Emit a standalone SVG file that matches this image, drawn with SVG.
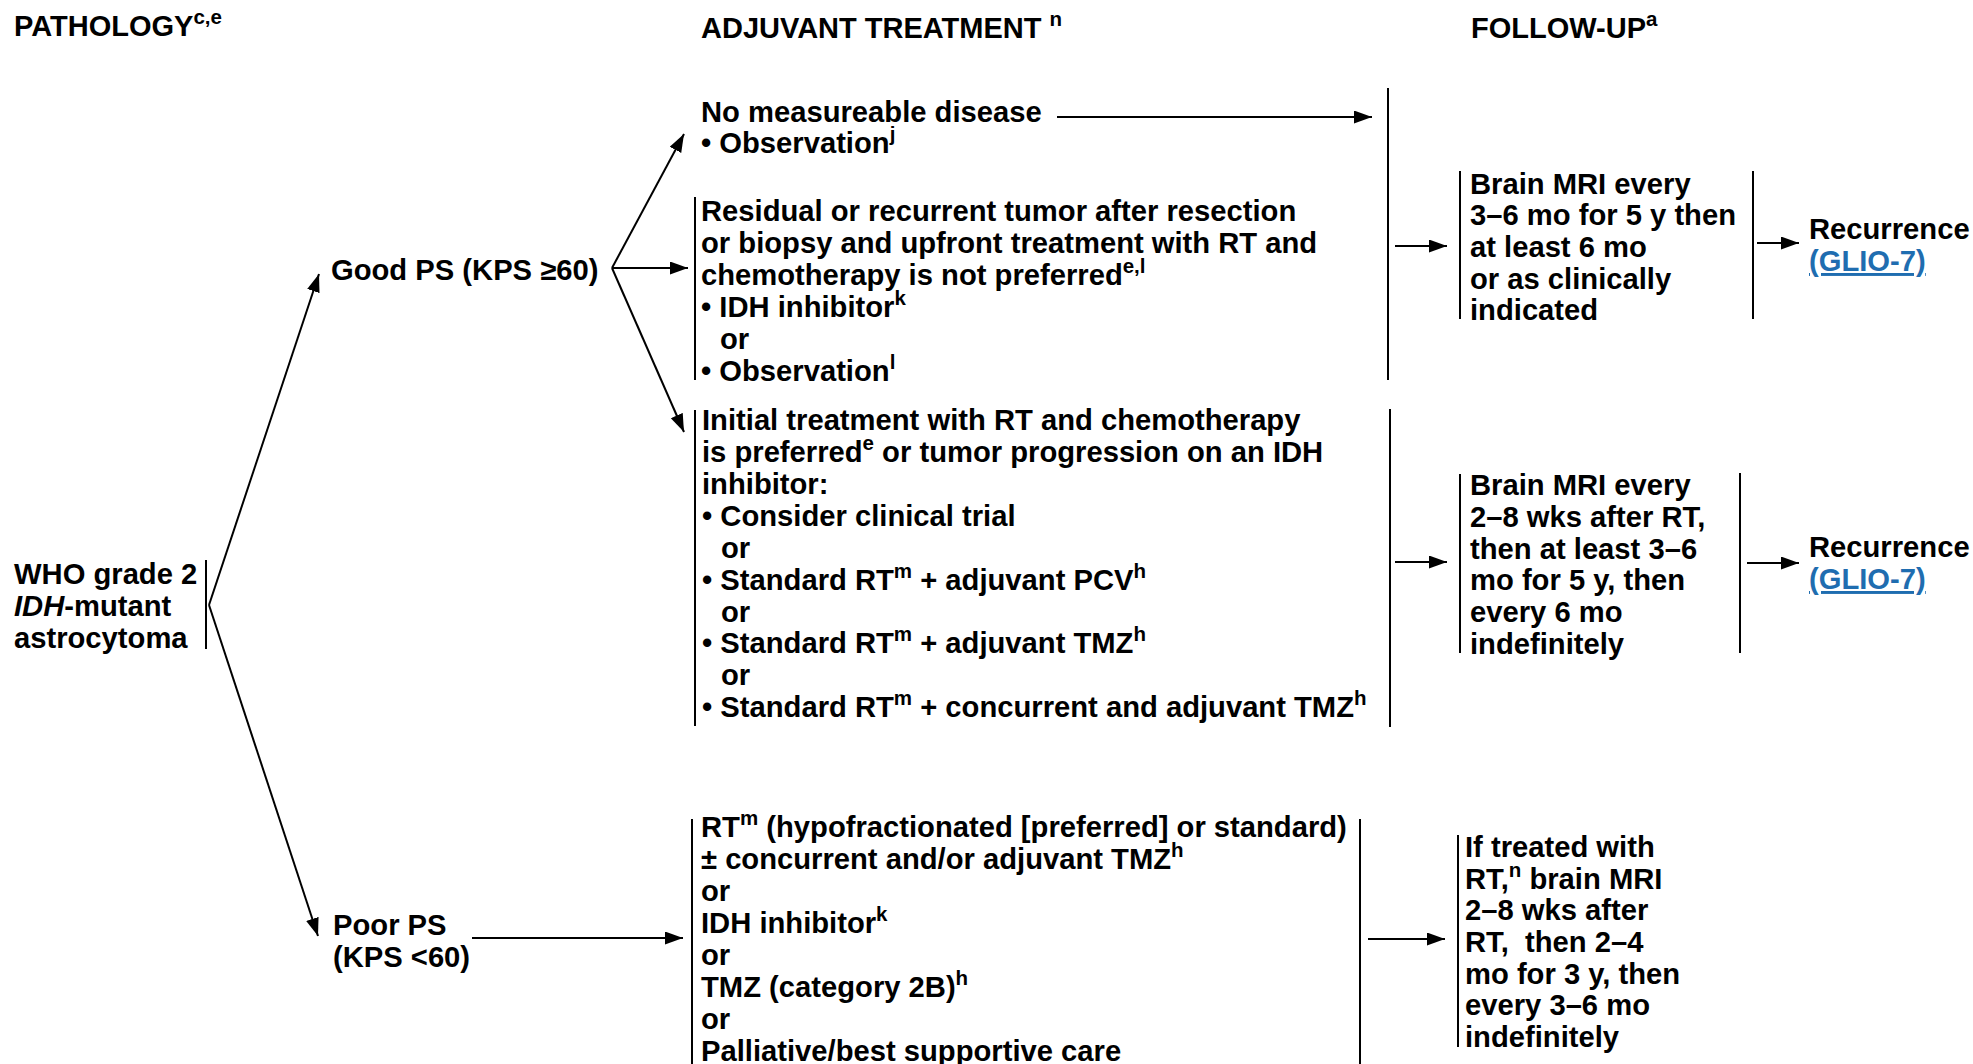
<svg xmlns="http://www.w3.org/2000/svg" width="1973" height="1064" viewBox="0 0 1973 1064">
<style>
.t{font-family:"Liberation Sans",Arial,Helvetica,sans-serif;font-weight:bold;font-size:29.2px;fill:#000}
.h{font-size:29px}
.s{font-size:20.5px}
.i{font-style:italic}
.lk{fill:#1f6db0;text-decoration:underline}
.br{stroke:#000;stroke-width:2;fill:none}
.cn{stroke:#000;stroke-width:2;fill:none;marker-end:url(#ah)}
</style>
<defs>
<marker id="ah" markerUnits="userSpaceOnUse" markerWidth="19" markerHeight="14" refX="18" refY="6.5" orient="auto"><path d="M0,0 L18,6.5 L0,13 z" fill="#000"/></marker>
</defs>
<rect width="1973" height="1064" fill="#fff"/>

<g id="headers">
<text class="t h" x="14" y="36">PATHOLOGY<tspan class="s" dy="-12">c,e</tspan></text>
<text class="t h" x="701" y="38">ADJUVANT TREATMENT <tspan class="s" dy="-12">n</tspan></text>
<text class="t h" x="1471" y="38">FOLLOW-UP<tspan class="s" dy="-12">a</tspan></text>
</g>

<g id="who">
<text class="t"><tspan x="14" y="584">WHO grade 2</tspan><tspan x="14" y="616"><tspan class="i">IDH</tspan>-mutant</tspan><tspan x="14" y="648">astrocytoma</tspan></text>
<line class="br" x1="206" y1="560" x2="206" y2="649"/>
</g>

<g id="good-ps">
<text class="t" x="331" y="280">Good PS (KPS ≥60)</text>
</g>

<g id="poor-ps">
<text class="t"><tspan x="333" y="935">Poor PS</tspan><tspan x="333" y="967">(KPS &lt;60)</tspan></text>
</g>

<g id="no-measurable">
<text class="t"><tspan x="701" y="122">No measureable disease</tspan><tspan x="701" y="153">• Observation<tspan class="s" dy="-12">j</tspan></tspan></text>
</g>

<g id="residual">
<text class="t"><tspan x="701" y="221">Residual or recurrent tumor after resection</tspan><tspan x="701" y="253">or biopsy and upfront treatment with RT and</tspan><tspan x="701" y="285">chemotherapy is not preferred<tspan class="s" dy="-12">e,l</tspan></tspan><tspan x="701" y="317">• IDH inhibitor<tspan class="s" dy="-12">k</tspan></tspan><tspan x="720" y="349">or</tspan><tspan x="701" y="381">• Observation<tspan class="s" dy="-12">l</tspan></tspan></text>
<line class="br" x1="695" y1="197" x2="695" y2="380"/>
</g>

<g id="group1-right">
<line class="br" x1="1388" y1="88" x2="1388" y2="380"/>
</g>

<g id="initial">
<text class="t"><tspan x="702" y="430">Initial treatment with RT and chemotherapy</tspan><tspan x="702" y="462">is preferred<tspan class="s" dy="-12">e</tspan><tspan dy="12"> or tumor progression on an IDH</tspan></tspan><tspan x="702" y="494">inhibitor:</tspan><tspan x="702" y="526">• Consider clinical trial</tspan><tspan x="721" y="558">or</tspan><tspan x="702" y="590">• Standard RT<tspan class="s" dy="-12">m</tspan><tspan dy="12"> + adjuvant PCV</tspan><tspan class="s" dy="-12">h</tspan></tspan><tspan x="721" y="622">or</tspan><tspan x="702" y="653">• Standard RT<tspan class="s" dy="-12">m</tspan><tspan dy="12"> + adjuvant TMZ</tspan><tspan class="s" dy="-12">h</tspan></tspan><tspan x="721" y="685">or</tspan><tspan x="702" y="717">• Standard RT<tspan class="s" dy="-12">m</tspan><tspan dy="12"> + concurrent and adjuvant TMZ</tspan><tspan class="s" dy="-12">h</tspan></tspan></text>
<line class="br" x1="695" y1="410" x2="695" y2="726"/>
<line class="br" x1="1390" y1="409" x2="1390" y2="727"/>
</g>

<g id="poor-treatment">
<text class="t"><tspan x="701" y="837">RT<tspan class="s" dy="-12">m</tspan><tspan dy="12"> (hypofractionated [preferred] or standard)</tspan></tspan><tspan x="701" y="869">± concurrent and/or adjuvant TMZ<tspan class="s" dy="-12">h</tspan></tspan><tspan x="701" y="901">or</tspan><tspan x="701" y="933">IDH inhibitor<tspan class="s" dy="-12">k</tspan></tspan><tspan x="701" y="965">or</tspan><tspan x="701" y="997">TMZ (category 2B)<tspan class="s" dy="-12">h</tspan></tspan><tspan x="701" y="1029">or</tspan><tspan x="701" y="1061">Palliative/best supportive care</tspan></text>
<line class="br" x1="692" y1="819" x2="692" y2="1064"/>
<line class="br" x1="1360" y1="819" x2="1360" y2="1064"/>
</g>

<g id="followup1">
<text class="t"><tspan x="1470" y="194">Brain MRI every</tspan><tspan x="1470" y="225">3–6 mo for 5 y then</tspan><tspan x="1470" y="257">at least 6 mo</tspan><tspan x="1470" y="289">or as clinically</tspan><tspan x="1470" y="320">indicated</tspan></text>
<line class="br" x1="1460" y1="171" x2="1460" y2="319"/>
<line class="br" x1="1753" y1="171" x2="1753" y2="319"/>
</g>

<g id="followup2">
<text class="t"><tspan x="1470" y="495">Brain MRI every</tspan><tspan x="1470" y="527">2–8 wks after RT,</tspan><tspan x="1470" y="559">then at least 3–6</tspan><tspan x="1470" y="590">mo for 5 y, then</tspan><tspan x="1470" y="622">every 6 mo</tspan><tspan x="1470" y="654">indefinitely</tspan></text>
<line class="br" x1="1460" y1="474" x2="1460" y2="653"/>
<line class="br" x1="1740" y1="473" x2="1740" y2="653"/>
</g>

<g id="followup3">
<text class="t"><tspan x="1465" y="857">If treated with</tspan><tspan x="1465" y="889">RT,<tspan class="s" dy="-12">n</tspan><tspan dy="12"> brain MRI</tspan></tspan><tspan x="1465" y="920">2–8 wks after</tspan><tspan x="1465" y="952">RT,&#160; then 2–4</tspan><tspan x="1465" y="984">mo for 3 y, then</tspan><tspan x="1465" y="1015">every 3–6 mo</tspan><tspan x="1465" y="1047">indefinitely</tspan></text>
<line class="br" x1="1458" y1="835" x2="1458" y2="1047"/>
</g>

<g id="recurrence1">
<text class="t"><tspan x="1809" y="239">Recurrence</tspan><tspan class="lk" x="1809" y="271">(GLIO-7)</tspan></text>
</g>

<g id="recurrence2">
<text class="t"><tspan x="1809" y="557">Recurrence</tspan><tspan class="lk" x="1809" y="589">(GLIO-7)</tspan></text>
</g>

<g id="connectors">
<line class="cn" x1="209" y1="605" x2="319" y2="274"/>
<line class="cn" x1="209" y1="605" x2="318" y2="936"/>
<line class="cn" x1="612" y1="268" x2="684" y2="134"/>
<line class="cn" x1="612" y1="268" x2="688" y2="268"/>
<line class="cn" x1="612" y1="268" x2="684" y2="432"/>
<line class="cn" x1="1057" y1="117" x2="1372" y2="117"/>
<line class="cn" x1="1395" y1="246" x2="1447" y2="246"/>
<line class="cn" x1="1757" y1="243" x2="1799" y2="243"/>
<line class="cn" x1="1395" y1="562" x2="1447" y2="562"/>
<line class="cn" x1="1747" y1="563" x2="1799" y2="563"/>
<line class="cn" x1="472" y1="938" x2="683" y2="938"/>
<line class="cn" x1="1368" y1="939" x2="1445" y2="939"/>
</g>
</svg>
